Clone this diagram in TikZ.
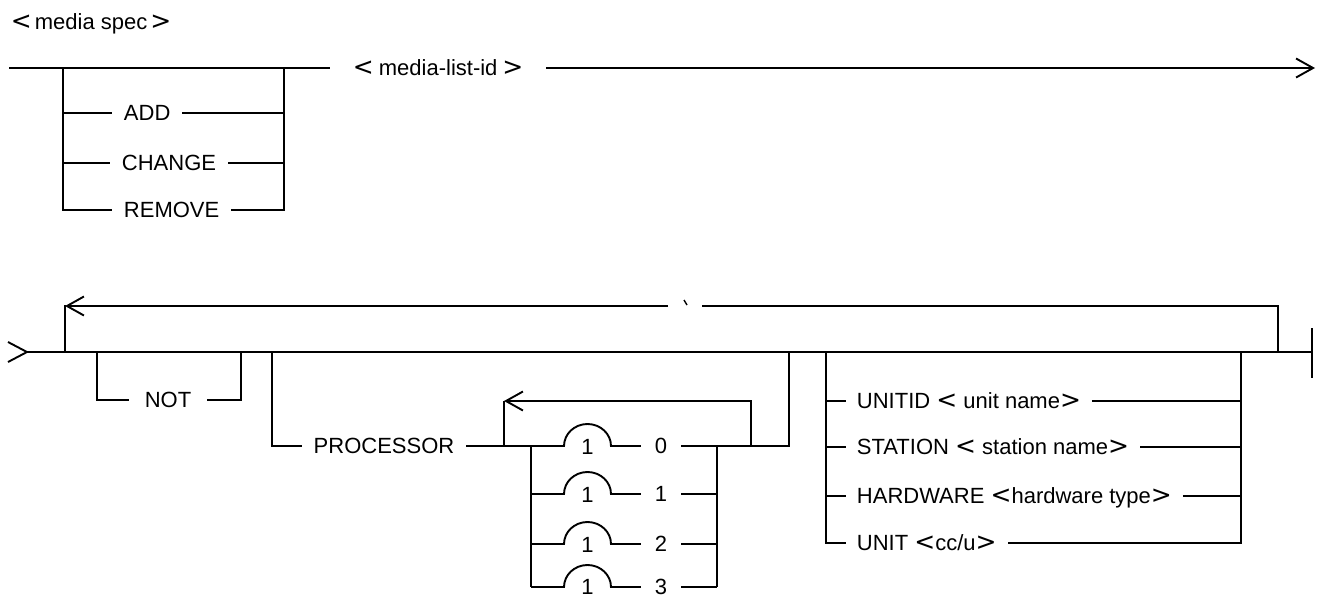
\documentclass[tikz,border=0pt]{standalone}
\usepackage{fontspec}
\setmainfont{Liberation Sans}
\newfontfamily\dejavu{DejaVu Sans}
\newcommand\ltsym{{\dejavu\fontsize{25}{26}\selectfont<}}
\newcommand\gtsym{{\dejavu\fontsize{25}{26}\selectfont>}}
\usetikzlibrary{arrows.meta}
\begin{document}
\begin{tikzpicture}[x=1pt,y=-1pt,line width=1.9pt,line join=miter,
  >={Straight Barb[length=17pt,width=19pt]},
  txt/.style={inner ysep=0pt,inner xsep=11pt,text height=15.7pt,text depth=0pt,
    font=\fontsize{22}{26}\selectfont,anchor=west},
  ctxt/.style={txt,anchor=center}]
\useasboundingbox (0,0) rectangle (1321,598);

% ---------- top diagram ----------
\node[txt,inner xsep=0pt] (title) at (10,22) {\ltsym\hspace{3pt}media spec\hspace{3pt}\gtsym};

\coordinate (t0) at (9,68);
\coordinate (g1a) at (63,68);
\coordinate (g1b) at (284,68);
\coordinate (g1e) at (330,68);
\coordinate (tend) at (1315,68);

\node[txt,inner xsep=22pt] (mli) at (g1e) {\ltsym\hspace{5pt}media-list-id\hspace{5pt}\gtsym};
\draw (t0) -- (g1e);
\draw[->] (mli.east) -- (tend);

\node[txt] (add) at (112,113) {ADD};
\node[txt] (change) at (110,163) {CHANGE};
\node[txt] (remove) at (112,210) {REMOVE};

\draw (g1a) |- (remove.west);
\draw (add.west -| g1a) -- (add.west);
\draw (change.west -| g1a) -- (change.west);
\draw (g1b) |- (remove.east);
\draw (add.east) -- (add.east -| g1b);
\draw (change.east) -- (change.east -| g1b);

% ---------- bottom diagram ----------
\coordinate (in) at (27,352);
\coordinate (outL) at (65,352);
\coordinate (outTL) at (65,306);
\coordinate (gapL) at (668,306);
\coordinate (gapR) at (702,306);
\coordinate (outR) at (1278,352);
\coordinate (notL) at (97,352);
\coordinate (notR) at (241,352);
\coordinate (procL) at (272,352);
\coordinate (procR) at (789,352);
\coordinate (unitL) at (826,352);
\coordinate (unitR) at (1241,352);
\coordinate (endb) at (1312,352);

% entry mark and main line
\draw ([shift={(-19,-10)}]in) -- (in) -- ([shift={(-19,10)}]in);
\draw (in) -- (endb);
\draw ([yshift=24pt]endb) -- ([yshift=-26pt]endb);

% outer repeat loop
\draw (outR) |- (gapR);
\draw[->] (gapL) -- (outTL);
\draw (outL) -- ([yshift=0.95pt]outTL);
\draw[line width=1.4pt] (684,300) -- (687,305);

% NOT
\node[ctxt,inner xsep=15pt] (not) at (168,400) {NOT};
\draw (notL) |- (not.west);
\draw (not.east) -| (notR);

% PROCESSOR
\node[ctxt,inner xsep=11pt] (proc) at (384,446) {PROCESSOR};
\draw (procL) |- (proc.west);

\coordinate (ilL) at (504,446);
\coordinate (ilTL) at (504,401);
\coordinate (ilTR) at (751,401);
\coordinate (ilR) at (751,446);
\coordinate (chL) at (531,446);
\coordinate (chR) at (717,446);

\draw[->] (ilR) -- (ilTR) -- (ilTL);
\draw (ilTL) -- (ilL);
\draw (ilR) -| (procR);

% choice rows
\coordinate (h0) at (564,446);
\coordinate (h1) at (564,494);
\coordinate (h2) at (564,544);
\coordinate (h3) at (564,587);
\foreach \i/\y in {0/447,1/495,2/545,3/587}{
  \node[ctxt,inner xsep=0pt] (one\i) at (587.5,\y) {1};
}
\foreach \i/\y in {0/446,1/494,2/544,3/587}{
  \node[ctxt,inner xsep=13pt] (d\i) at (661,\y) {\i};
}
\draw (proc.east) -- (h0) arc[start angle=180,end angle=0,x radius=23.5pt,y radius=22pt] -- (d0.west);
\draw (d0.east) -- (ilR);
\foreach \i in {1,2,3}{
  \draw (chL |- h\i) -- (h\i) arc[start angle=180,end angle=0,x radius=23.5pt,y radius=22pt] -- (d\i.west);
  \draw (d\i.east) -- (d\i.east -| chR);
}
\draw (chL) -- (chL |- h3);
\draw (chR) -- (chR |- h3);

% unit specification group
\node[txt,inner xsep=10pt] (uid) at (846,401) {UNITID \ltsym\ unit name\gtsym};
\node[txt,inner xsep=10pt] (sta) at (846,447) {STATION \ltsym\ station name\gtsym};
\node[txt,inner xsep=10pt] (hw) at (846,496) {HARDWARE \ltsym hardware type\gtsym};
\node[txt,inner xsep=10pt] (unit) at (846,543) {UNIT \ltsym cc/u\gtsym};

\draw (unitL) |- (unit.west);
\draw (uid.west -| unitL) -- (uid.west);
\draw (sta.west -| unitL) -- (sta.west);
\draw (hw.west -| unitL) -- (hw.west);
\draw (unitR) |- (unit.east);
\draw (uid.east) -- (uid.east -| unitR);
\draw (sta.east) -- (sta.east -| unitR);
\draw (hw.east) -- (hw.east -| unitR);
\end{tikzpicture}
\end{document}
